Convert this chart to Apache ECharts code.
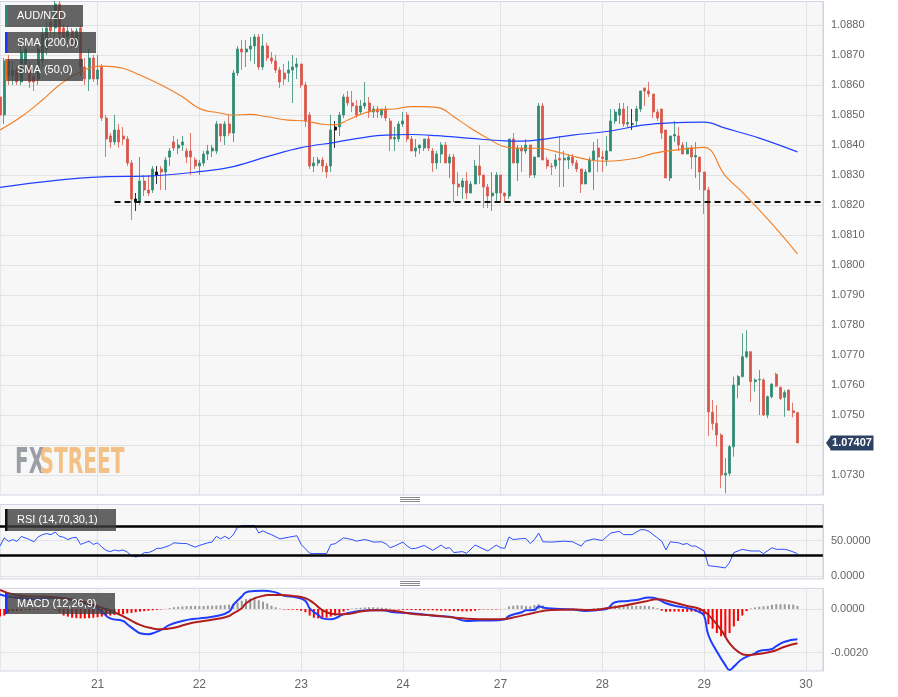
<!DOCTYPE html>
<html><head><meta charset="utf-8">
<script src="https://cdn.jsdelivr.net/npm/echarts@6/dist/echarts.min.js"></script>
<style>html,body{margin:0;padding:0;background:#fff;} #c{width:898px;height:697px;}</style>
</head><body><div id="c"></div>
<script>
// ---------- data ----------
const dayTickIndex = [23, 47, 71, 95, 118, 142, 166, 190];
const dayTickLabel = ['21', '22', '23', '24', '27', '28', '29', '30'];
const priceTicks = [1.0730, 1.0740, 1.0750, 1.0760, 1.0770, 1.0780, 1.0790, 1.0800, 1.0810, 1.0820, 1.0830, 1.0840, 1.0850, 1.0860, 1.0870, 1.0880];
const rsiTicks = [0, 50];
const macdTicks = [-0.0020, 0];
const rsiLevels = [70, 30];
const supportLevel = 1.0821;
const supportStart = 27;
const lastPrice = 1.07407;
const blackCandles = [32, 37, 79, 149];

// [open, close, low, high]
const ohlc = [
[1.0856,1.0850,1.0849,1.0857],[1.0850,1.0868,1.0847,1.0869],[1.0868,1.0863,1.0860,1.0870],[1.0863,1.0865,1.0860,1.0868],
[1.0865,1.0861,1.0860,1.0866],[1.0861,1.0871,1.0860,1.0873],[1.0867,1.0872,1.0864,1.0874],[1.0866,1.0861,1.0859,1.0868],
[1.0863,1.0861,1.0858,1.0864],[1.0862,1.0872,1.0860,1.0874],[1.0868,1.0877,1.0866,1.0879],[1.0872,1.0879,1.0870,1.0881],
[1.0881,1.0878,1.0876,1.0883],[1.0879,1.0887,1.0876,1.0888],[1.0887,1.0877,1.0875,1.0888],[1.0879,1.0876,1.0875,1.0880],
[1.0876,1.0878,1.0874,1.0880],[1.0878,1.0874,1.0872,1.0879],[1.0873,1.0878,1.0872,1.0879],[1.0879,1.0866,1.0863,1.0880],
[1.0866,1.0862,1.0860,1.0869],[1.0862,1.0869,1.0858,1.0872],[1.0869,1.0862,1.0861,1.0870],[1.0862,1.0865,1.0860,1.0870],
[1.0866,1.0849,1.0848,1.0867],[1.0849,1.0842,1.0836,1.0850],[1.0843,1.0841,1.0839,1.0844],[1.0841,1.0845,1.0840,1.0850],
[1.0845,1.0841,1.0839,1.0847],[1.0843,1.0842,1.0840,1.0846],[1.0842,1.0834,1.0833,1.0843],[1.0834,1.0822,1.0815,1.0835],
[1.0821,1.0822,1.0818,1.0824],[1.0821,1.0828,1.0820,1.0836],[1.0828,1.0825,1.0823,1.0830],[1.0825,1.0824,1.0823,1.0830],
[1.0825,1.0832,1.0824,1.0833],[1.0830,1.0831,1.0827,1.0833],[1.0832,1.0831,1.0825,1.0833],[1.0831,1.0835,1.0825,1.0836],
[1.0836,1.0838,1.0833,1.0839],[1.0841,1.0839,1.0838,1.0843],[1.0839,1.0840,1.0837,1.0842],[1.0840,1.0841,1.0838,1.0843],
[1.0838,1.0836,1.0834,1.0839],[1.0838,1.0836,1.0830,1.0844],[1.0835,1.0833,1.0832,1.0836],[1.0833,1.0834,1.0830,1.0835],
[1.0834,1.0837,1.0833,1.0838],[1.0837,1.0838,1.0835,1.0840],[1.0838,1.0839,1.0836,1.0840],[1.0838,1.0847,1.0837,1.0848],
[1.0847,1.0843,1.0841,1.0847],[1.0843,1.0847,1.0840,1.0848],[1.0847,1.0844,1.0843,1.0850],[1.0844,1.0864,1.0841,1.0865],
[1.0864,1.0872,1.0863,1.0873],[1.0872,1.0871,1.0865,1.0875],[1.0871,1.0872,1.0866,1.0875],[1.0872,1.0873,1.0868,1.0876],
[1.0873,1.0876,1.0867,1.0877],[1.0876,1.0866,1.0865,1.0877],[1.0866,1.0873,1.0865,1.0877],[1.0873,1.0869,1.0868,1.0874],
[1.0869,1.0868,1.0867,1.0871],[1.0868,1.0865,1.0864,1.0870],[1.0865,1.0861,1.0859,1.0866],[1.0864,1.0862,1.0860,1.0867],
[1.0864,1.0865,1.0861,1.0868],[1.0865,1.0866,1.0854,1.0870],[1.0866,1.0867,1.0862,1.0869],[1.0867,1.0860,1.0859,1.0867],
[1.0860,1.0848,1.0846,1.0861],[1.0850,1.0833,1.0832,1.0851],[1.0833,1.0834,1.0831,1.0836],[1.0834,1.0835,1.0833,1.0836],
[1.0835,1.0833,1.0831,1.0836],[1.0833,1.0831,1.0829,1.0834],[1.0833,1.0845,1.0831,1.0850],[1.0845,1.0846,1.0839,1.0848],
[1.0846,1.0850,1.0843,1.0851],[1.0850,1.0856,1.0849,1.0857],[1.0856,1.0854,1.0853,1.0858],[1.0854,1.0853,1.0851,1.0858],
[1.0853,1.0850,1.0849,1.0855],[1.0851,1.0853,1.0850,1.0855],[1.0853,1.0854,1.0852,1.0861],[1.0854,1.0851,1.0849,1.0856],
[1.0851,1.0852,1.0849,1.0853],[1.0852,1.0851,1.0849,1.0853],[1.0850,1.0852,1.0849,1.0852],[1.0852,1.0849,1.0848,1.0853],
[1.0848,1.0842,1.0838,1.0849],[1.0842,1.08425,1.0838,1.0846],[1.0842,1.0847,1.0841,1.0848],[1.0847,1.0848,1.0846,1.0851],
[1.0850,1.0842,1.0841,1.0851],[1.0842,1.0838,1.0838,1.0843],[1.0838,1.0839,1.0836,1.0842],[1.0839,1.0840,1.0837,1.0840],
[1.0839,1.0842,1.0838,1.0842],[1.0842,1.0839,1.0838,1.0843],[1.0838,1.0834,1.0831,1.0839],[1.0834,1.0837,1.0832,1.0838],
[1.0837,1.0840,1.0834,1.0841],[1.0840,1.0834,1.0834,1.0841],[1.0834,1.0836,1.0829,1.0837],[1.0836,1.0827,1.0821,1.0837],
[1.0827,1.0826,1.0823,1.0831],[1.0826,1.0828,1.0822,1.0829],[1.0828,1.0824,1.0822,1.0831],[1.0824,1.0827,1.0824,1.0828],
[1.0827,1.0833,1.0827,1.0835],[1.0833,1.0830,1.0827,1.0840],[1.0830,1.0826,1.0819,1.0830],[1.0826,1.0823,1.0819,1.0827],
[1.0823,1.0824,1.0818,1.0831],[1.0824,1.0830,1.0821,1.0831],[1.0830,1.0824,1.0821,1.0830],[1.0824,1.0823,1.0821,1.0824],
[1.0823,1.0842,1.0822,1.0842],[1.0842,1.0834,1.0834,1.0844],[1.0834,1.0839,1.0828,1.0840],[1.0839,1.0838,1.0831,1.0840],
[1.0838,1.0840,1.0837,1.0842],[1.0840,1.0830,1.0829,1.0840],[1.0830,1.0836,1.0829,1.0836],[1.0836,1.0853,1.0836,1.0854],
[1.0853,1.0835,1.0835,1.0854],[1.0835,1.0833,1.0832,1.0836],[1.0833,1.08328,1.0830,1.0834],[1.0833,1.0835,1.0832,1.0837],
[1.08355,1.0835,1.0826,1.0843],[1.0835,1.08356,1.0826,1.0838],[1.0835,1.0836,1.0832,1.0837],[1.0836,1.0834,1.0833,1.0837],
[1.0834,1.0832,1.0831,1.0835],[1.0832,1.0827,1.0824,1.0832],[1.0827,1.0831,1.0827,1.0832],[1.0831,1.0835,1.0831,1.0836],
[1.0835,1.0838,1.0825,1.0841],[1.0839,1.0836,1.0831,1.0842],[1.0836,1.08355,1.0831,1.0838],[1.0835,1.0838,1.0833,1.0843],
[1.0838,1.0848,1.0838,1.0852],[1.0848,1.0851,1.0847,1.0852],[1.0850,1.0852,1.0847,1.0854],[1.0852,1.0847,1.0846,1.0854],
[1.0847,1.08475,1.0846,1.0853],[1.0847,1.0847,1.0845,1.0852],[1.0848,1.0852,1.0846,1.0853],[1.0852,1.0858,1.0851,1.0858],
[1.0859,1.0858,1.0853,1.0859],[1.0858,1.0857,1.0856,1.0861],[1.0857,1.0851,1.0849,1.0857],[1.0851,1.0849,1.0848,1.0852],
[1.0852,1.0844,1.0842,1.0852],[1.0845,1.0829,1.0829,1.0845],[1.0829,1.0843,1.0828,1.0843],[1.0843,1.08435,1.0841,1.0848],
[1.0843,1.0840,1.0838,1.0846],[1.0840,1.0837,1.0837,1.0841],[1.0837,1.0839,1.0837,1.0841],[1.0839,1.0836,1.0832,1.0840],
[1.0836,1.08365,1.0829,1.0841],[1.0836,1.0831,1.0825,1.0836],[1.0831,1.0825,1.0817,1.0831],[1.0825,1.0751,1.0743,1.0826],
[1.07509,1.07472,1.0745,1.0755],[1.07472,1.07433,1.07394,1.07533],[1.07433,1.0730,1.07256,1.07439],[1.0730,1.07306,1.07239,1.07356],
[1.07306,1.07394,1.07297,1.0740],[1.07394,1.0760,1.07361,1.07628],[1.0760,1.07628,1.07555,1.07633],[1.07628,1.07694,1.07625,1.07772],
[1.07694,1.07711,1.07689,1.07783],[1.07711,1.07611,1.07544,1.07711],[1.07611,1.07617,1.07578,1.07622],[1.07617,1.07619,1.0750,1.0765],
[1.07617,1.0750,1.07497,1.07622],[1.0750,1.07561,1.07489,1.07565],[1.07561,1.07603,1.07555,1.07606],[1.07636,1.07596,1.07594,1.07641],
[1.07592,1.07555,1.0755,1.07595],[1.07559,1.07575,1.07494,1.07583],[1.07583,1.07516,1.07515,1.07585],[1.07514,1.07508,1.07492,1.07541],
[1.07508,1.07407,1.07407,1.07508]
];

// [candle index, value]
const sma50 = [[0,1.0845],[5,1.08494],[10,1.0855],[14,1.0860],[19,1.08644],[24,1.08663],[29,1.08656],[33,1.08633],[38,1.0860],[43,1.08561],
[47,1.08522],[52,1.08506],[55,1.0850],[59,1.08502],[63,1.08494],[68,1.08483],[72,1.0848],[76,1.08469],[79,1.08467],[82,1.08483],
[85,1.08502],[89,1.08517],[93,1.0852],[97,1.08528],[100,1.08528],[104,1.08522],[107,1.08494],[111,1.08456],[115,1.08422],[119,1.08394],
[123,1.08389],[127,1.08389],[131,1.08378],[135,1.08363],[139,1.0835],[143,1.08346],[150,1.08356],[154,1.08372],[159,1.08383],[166,1.08392],
[171,1.08297],[175,1.08243],[182,1.08137],[188,1.08037]];
const sma200 = [[0,1.08259],[24,1.08294],[36,1.08297],[47,1.08311],[55,1.08328],[63,1.08361],[71,1.08391],[79,1.08409],[87,1.08428],[91,1.08433],
[97,1.08435],[103,1.08431],[111,1.08422],[119,1.08414],[123,1.08413],[127,1.08417],[135,1.08433],[143,1.08445],[152,1.08467],[158,1.08474],
[166,1.08476],[171,1.08456],[179,1.08423],[188,1.08377]];

const rsi = [[0,42.4],[1,54],[2,49],[3,51.6],[4,49],[5,56],[7,51.6],[8,48.4],[9,55.3],[10,58.5],[11,60],[12,58.5],[13,62.2],[14,56.2],[15,54.8],
[16,51.6],[17,54],[18,54.8],[19,44.7],[20,47],[21,49.3],[22,44.7],[23,47],[24,41],[25,36.4],[26,34.6],[27,36.9],[28,35.5],[29,36.9],[30,34],
[31,28.6],[32,27.2],[33,28.6],[34,33.2],[35,33.2],[36,35.5],[37,39.2],[38,39.2],[40,43.3],[41,47],[43,46],[44,46],[45,43.3],[46,41],[47,43.3],
[49,47],[50,48],[51,56.2],[52,52.5],[53,56.2],[54,52.5],[55,58.5],[56,69],[57,71.4],[58,71.4],[60,71.4],[61,60.8],[62,64],[63,60.8],[64,58.5],
[66,52.5],[68,54.8],[70,57],[71,44.7],[73,32.3],[74,31.8],[77,31.8],[78,44.7],[79,45.6],[81,54],[83,51.6],[84,49.3],[86,51.6],[87,50.2],[88,48],
[90,48.4],[91,45.6],[92,40.1],[93,42.4],[95,48],[96,42.4],[97,38.7],[98,39.2],[100,43.3],[102,36.4],[104,43.8],[105,39.2],[106,40.1],[107,33.2],
[109,34.6],[110,32.3],[112,43.8],[115,35.5],[117,43.8],[118,40.1],[119,39.2],[120,55.3],[121,51.6],[123,53],[124,53],[125,46],[126,51.6],[127,60.8],
[128,48.4],[130,48],[133,49.3],[135,48.4],[137,42.4],[138,49.3],[140,52.5],[142,50.2],[144,60.8],[146,63.1],[147,58.5],[149,58.5],[151,65.4],
[152,65.4],[153,63.1],[155,53.9],[156,49.3],[157,36.9],[158,48.4],[160,47],[161,44.7],[162,46],[163,42.4],[164,42.4],[166,35.5],[167,14.8],
[169,13.4],[171,11.6],[172,19.4],[173,33.2],[174,35.5],[175,37.8],[177,35.5],[179,35.5],[180,31.8],[182,40.1],[183,37.8],[185,37.8],[186,36.4],[188,31.8]];

const macdLine = [[0,0.00067],[2,0.00057],[5,0.00049],[8,0.00046],[11,0.00049],[13,0.00052],[16,0.00046],[19,0.00031],[22,0.00015],[24,-0.00012],
[26,-0.00043],[29,-0.00055],[30,-0.0007],[32,-0.00099],[33,-0.00111],[35,-0.00116],[36,-0.00111],[38,-0.00096],[40,-0.00073],[43,-0.00055],
[45,-0.00047],[47,-0.00043],[51,-0.00032],[54,-0.00012],[55,0.00018],[57,0.00057],[58,0.00076],[60,0.00082],[62,0.00084],[65,0.00076],
[67,0.00061],[70,0.00053],[72,0.00037],[73,0.00003],[75,-0.00027],[76,-0.00043],[78,-0.00047],[79,-0.00043],[81,-0.00024],[84,-0.00012],
[87,-0.00006],[90,-0.00006],[93,-0.00015],[96,-0.00018],[99,-0.00023],[103,-0.00032],[106,-0.00035],[110,-0.00055],[113,-0.00053],[116,-0.00053],
[119,-0.00047],[120,-0.00032],[123,-0.00015],[124,-0.00006],[126,-0.00005],[127,0.00011],[129,0.00003],[132,0],[135,-0.00002],[138,-0.00009],
[141,-0.00005],[143,0],[145,0.00031],[148,0.00037],[150,0.00041],[153,0.00053],[155,0.00046],[157,0.00026],[160,0.00011],[163,0],[165,-0.00015],
[166,-0.00031],[167,-0.00119],[169,-0.00195],[171,-0.00257],[172,-0.00279],[173,-0.00264],[175,-0.00229],[178,-0.00203],[179,-0.00192],
[182,-0.00183],[183,-0.0017],[185,-0.0015],[188,-0.00139]];
const signalLine = [[0,0.00087],[3,0.00067],[7,0.00057],[10,0.00057],[13,0.00052],[16,0.00046],[20,0.00031],[24,0.00006],[27,-0.00015],[30,-0.00043],
[33,-0.00073],[36,-0.00089],[38,-0.00093],[41,-0.00086],[44,-0.0007],[47,-0.00058],[51,-0.00046],[54,-0.00032],[55,-0.0002],[57,0.00003],
[58,0.00026],[60,0.00049],[62,0.0006],[63,0.00064],[66,0.00064],[69,0.0006],[72,0.00049],[74,0.00026],[76,-0.00005],[79,-0.00024],[82,-0.00023],
[85,-0.00012],[88,-0.00006],[91,-0.00006],[94,-0.00012],[97,-0.00022],[100,-0.00027],[105,-0.00035],[109,-0.00043],[113,-0.00047],[118,-0.00047],
[122,-0.00035],[126,-0.00017],[130,-0.00005],[135,-0.00002],[139,-0.00005],[143,0.00003],[147,0.00015],[152,0.00034],[155,0.00044],[158,0.00034],
[162,0.00014],[165,0],[167,-0.00027],[170,-0.00096],[172,-0.00157],[174,-0.00195],[176,-0.00211],[178,-0.00208],[182,-0.00195],[185,-0.00173],[188,-0.00157]];

const macdHist = [
-0.00035,-0.0003,-0.00015,-0.0001,-0.0001,-0.00008,-0.00005,-0.00005,-0.00005,-0.00003,-0.00002,-0.00002,-0.00001,-0.00003,
-0.00015,-0.0003,-0.00035,-0.0004,-0.00042,-0.00043,-0.00043,-0.00042,-0.0004,-0.00038,-0.00035,-0.00033,-0.0003,
-0.00028,-0.00026,-0.00024,-0.0002,-0.00018,-0.00015,-0.00012,-0.0001,-0.00008,-0.00006,-0.00004,
-0.00002,0.00001,
0.00004,0.00008,0.0001,0.00012,0.00013,0.00014,0.00014,0.00014,0.00014,0.00015,0.00015,0.00016,0.00017,0.00018,0.0002,
0.00025,0.0003,0.00038,0.00045,0.00048,0.00045,0.0004,0.00033,0.00025,
0.00015,0.00008,0.00002,-0.00002,-0.00003,-0.00003,-0.00004,-0.00008,
-0.00015,-0.0003,-0.0004,-0.00043,-0.00043,-0.0004,-0.00035,-0.0003,-0.0002,-0.00012,
-0.00005,0.00002,0.00004,0.00006,0.00007,0.00008,0.00008,0.00007,0.00006,0.00004,0.00002,-0.00002,-0.00003,-0.00004,-0.00004,-0.00005,-0.00005,-0.00006,
-0.00006,-0.00006,-0.00006,-0.00007,-0.00008,-0.00008,-0.00009,-0.0001,-0.0001,-0.00011,-0.00011,-0.0001,-0.00008,
-0.00003,-0.00002,-0.00002,-0.00002,-0.00002,-0.00001,0.00001,
0.00012,0.00015,0.00017,0.00016,0.00013,0.00012,0.00018,0.00022,0.00016,
0.00008,0.00005,0.00004,0.00004,0.00004,0.00003,0.00002,0.00001,-0.00002,-0.00002,0.00001,0.00003,0.00004,0.00005,0.00008,
0.00013,0.00016,0.00017,0.00016,0.00015,0.00014,0.00014,0.00014,0.00015,0.00013,0.00009,0.00004,
-0.00008,-0.00013,-0.00012,-0.00012,-0.00012,-0.00013,-0.00013,-0.00012,-0.00013,-0.00014,
-0.00027,-0.0007,-0.0009,-0.0011,-0.00125,-0.00127,-0.0011,-0.0008,-0.00055,-0.0003,-0.0001,0.00003,
0.00007,0.0001,0.00012,0.00014,0.00019,0.00022,0.00022,0.00022,0.00021,0.0002,0.00014
];

// ---------- chart ----------
const N = 195;
const cats = Array.from({length: N}, (_, i) => String(i));
const chart = echarts.init(document.getElementById('c'), null, {renderer: 'canvas'});
const GRID_BG = '#f7f7f7', BORDER = '#cfd5e3', SPLIT = '#e3e3e3', LBL = '#666';
const FONT = '"Liberation Sans", Arial, sans-serif';
const isDay = (i) => dayTickIndex.indexOf(i) >= 0;

function xAxisFor(g) {
  return {
    type: 'category', gridIndex: g, data: cats, boundaryGap: false,
    axisLine: {show: false}, axisTick: {show: false},
    axisLabel: g === 2 ? {
      show: true, interval: (i) => isDay(i), color: LBL, fontSize: 12, fontFamily: FONT, margin: 8,
      formatter: (v, i) => { const k = dayTickIndex.indexOf(i); return k >= 0 ? dayTickLabel[k] : ''; }
    } : {show: false},
    splitLine: {show: true, interval: (i) => isDay(i), lineStyle: {color: SPLIT, width: 1}}
  };
}
function yAxisFor(g, min, max, ticks) {
  return {
    type: 'value', gridIndex: g, position: 'right', min: min, max: max, scale: true,
    axisLine: {show: true, lineStyle: {color: BORDER}},
    axisTick: {show: false, customValues: ticks},
    axisLabel: {customValues: ticks, formatter: (v) => v.toFixed(4), color: LBL, fontSize: 11, fontFamily: FONT, margin: 8},
    splitLine: {show: true, lineStyle: {color: SPLIT, width: 1}}
  };
}
const gridBase = {left: -1.6, right: 75.1, show: true, backgroundColor: GRID_BG, borderColor: BORDER, borderWidth: 1};

const candleData = ohlc.map((d, i) => blackCandles.indexOf(i) >= 0
  ? {value: d, itemStyle: {color: '#000', color0: '#000', borderColor: '#000', borderColor0: '#000'}}
  : d);

function legendBox(id, y, w, h, strip, text) {
  return [
    {type: 'rect', id: id + 'b', shape: {x: 5, y: y, width: w, height: h}, style: {fill: 'rgba(62,62,62,0.8)'}, z: 100},
    {type: 'rect', id: id + 's', shape: {x: 5, y: y, width: 2.5, height: h}, style: {fill: strip}, z: 101},
    {type: 'text', id: id + 't', x: 17, y: y + h / 2, style: {text: text, fill: '#fff', font: '11px ' + FONT, verticalAlign: 'middle', textVerticalAlign: 'middle'}, z: 101}
  ];
}
function handle(id, y0) {
  return [0, 2, 4].map((d, k) => ({type: 'line', id: id + k, shape: {x1: 400, y1: y0 + d, x2: 420, y2: y0 + d}, style: {stroke: '#8a8a8a', lineWidth: 1}, z: 50}));
}

const WM_FONT = 'bold 35px "Liberation Sans Narrow", "DejaVu Sans Condensed", sans-serif';
const graphics = [].concat(
  legendBox('l1', 5, 78, 22, '#2e8b72', 'AUD/NZD'),
  legendBox('l2', 32, 91, 21, '#1a35ff', 'SMA (200,0)'),
  legendBox('l3', 59, 78, 22, '#e8691c', 'SMA (50,0)'),
  legendBox('l4', 509, 111, 22, '#111', 'RSI (14,70,30,1)'),
  legendBox('l5', 593, 110, 21, '#1a35ff', 'MACD (12,26,9)'),
  handle('h1', 497.5), handle('h2', 581.5),
  [
    {type: 'text', id: 'wm1', x: 15, y: 464, scaleX: 0.64, style: {text: 'FX', fill: '#9c9ea5', font: WM_FONT, verticalAlign: 'middle', textVerticalAlign: 'middle'}, z: 5},
    {type: 'text', id: 'wm2', x: 39.5, y: 464, scaleX: 0.64, style: {text: 'STREET', fill: '#f3c185', font: WM_FONT, verticalAlign: 'middle', textVerticalAlign: 'middle'}, z: 5}
  ]
);

const option = {
  animation: false,
  backgroundColor: '#ffffff',
  grid: [
    Object.assign({}, gridBase, {top: 1.5, height: 493.5}),
    Object.assign({}, gridBase, {top: 504.5, height: 74.5}),
    Object.assign({}, gridBase, {top: 588.3, height: 82.7})
  ],
  xAxis: [xAxisFor(0), xAxisFor(1), xAxisFor(2)],
  yAxis: [
    yAxisFor(0, 1.072333, 1.088783, priceTicks),
    yAxisFor(1, -4, 101, rsiTicks),
    yAxisFor(2, -0.00284, 0.000947, macdTicks)
  ],
  graphic: {elements: graphics},
  series: [
    {
      type: 'candlestick', xAxisIndex: 0, yAxisIndex: 0, data: candleData, barWidth: 2.5,
      itemStyle: {color: '#2e8b72', color0: '#d9574a', borderColor: '#2e8b72', borderColor0: '#d9574a', borderWidth: 0.8},
      markLine: {
        symbol: 'none', silent: true, animation: false, label: {show: false},
        data: [
          {yAxis: lastPrice, lineStyle: {color: '#2b3f5f', width: 1, type: 'solid'}},
          [{coord: [supportStart, supportLevel], lineStyle: {color: '#111', width: 2, type: [6, 4]}}, {coord: [N - 1, supportLevel]}]
        ]
      }
    },
    {type: 'line', xAxisIndex: 0, yAxisIndex: 0, data: sma50, showSymbol: false, smooth: 0.4, lineStyle: {color: '#f27d22', width: 1.1}, z: 3},
    {type: 'line', xAxisIndex: 0, yAxisIndex: 0, data: sma200, showSymbol: false, smooth: 0.4, lineStyle: {color: '#2140ff', width: 1.2}, z: 3},
    {
      type: 'line', xAxisIndex: 1, yAxisIndex: 1, data: rsi, showSymbol: false, lineStyle: {color: '#2b4fff', width: 1},
      markLine: {symbol: 'none', silent: true, label: {show: false}, lineStyle: {color: '#000', width: 2.5, type: 'solid'},
        data: rsiLevels.map((v) => ({yAxis: v}))}
    },
    {
      type: 'bar', xAxisIndex: 2, yAxisIndex: 2, data: macdHist, barWidth: 2,
      itemStyle: {color: (p) => p.value < 0 ? '#ff0000' : '#9a9a9a'}
    },
    {type: 'line', xAxisIndex: 2, yAxisIndex: 2, data: macdLine, showSymbol: false, smooth: 0.5, lineStyle: {color: '#1f3cff', width: 2}, z: 4},
    {type: 'line', xAxisIndex: 2, yAxisIndex: 2, data: signalLine, showSymbol: false, smooth: 0.5, lineStyle: {color: '#b01e1e', width: 2}, z: 4}
  ]
};
chart.setOption(option);

// price tag on right axis, positioned through the axis scale
const py = chart.convertToPixel({xAxisIndex: 0, yAxisIndex: 0}, [0, lastPrice])[1];
chart.setOption({graphic: {elements: [
  {type: 'polygon', id: 'tagA', shape: {points: [[826, py], [831, py - 7], [831, py + 7]]}, style: {fill: '#2d4263'}, z: 110},
  {type: 'rect', id: 'tagB', shape: {x: 830.5, y: py - 7.5, width: 43, height: 15}, style: {fill: '#2d4263'}, z: 110},
  {type: 'text', id: 'tagT', x: 852, y: py + 0.5, style: {text: lastPrice.toFixed(5), fill: '#fff', font: 'bold 11px ' + FONT, align: 'center', verticalAlign: 'middle', textAlign: 'center', textVerticalAlign: 'middle'}, z: 111}
]}});
</script>
</body></html>
